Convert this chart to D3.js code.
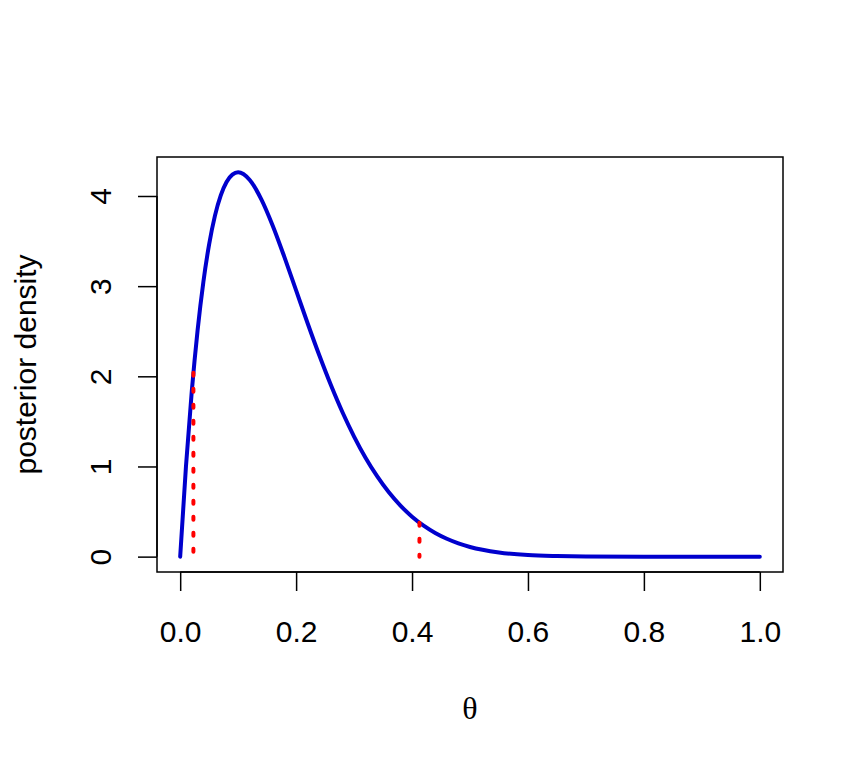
<!DOCTYPE html>
<html>
<head>
<meta charset="utf-8">
<script src="https://cdn.jsdelivr.net/npm/d3@7"></script>
<style>
  html, body { margin: 0; padding: 0; background: #fff; }
  svg { display: block; }
</style>
</head>
<body>
<script>
// ---- data ----
const theta = [0, 0.01, 0.02, 0.03, 0.04, 0.05, 0.06, 0.07, 0.08, 0.09, 0.10,
  0.12, 0.14, 0.16, 0.18, 0.20, 0.22, 0.24, 0.26, 0.28, 0.30, 0.32, 0.34, 0.36,
  0.38, 0.40, 0.42, 0.44, 0.46, 0.48, 0.50, 0.55, 0.60, 0.65, 0.70, 0.80, 0.90, 1.00];
const density = [0, 1.005, 1.834, 2.509, 3.047, 3.466, 3.782, 4.007, 4.155, 4.237, 4.262,
  4.177, 3.963, 3.665, 3.319, 2.953, 2.586, 2.233, 1.903, 1.601, 1.332, 1.094, 0.889, 0.713,
  0.566, 0.443, 0.343, 0.262, 0.198, 0.147, 0.107, 0.046, 0.017, 0.006, 0.0015, 0.00005, 0, 0];
const intervalTheta = [0.0228, 0.4128];
const intervalDensity = [2.04, 0.377];
const xTicks = [0, 0.2, 0.4, 0.6, 0.8, 1.0];
const yTicks = [0, 1, 2, 3, 4];
const xLabel = "θ";
const yLabel = "posterior density";

// ---- layout ----
const W = 864, H = 768;
const box = { left: 157, right: 783, top: 157, bottom: 572 };
const svg = d3.select("body").append("svg").attr("width", W).attr("height", H);

const xmin = d3.min(theta), xmax = d3.max(theta);
const ymin = d3.min(density), ymax = d3.max(density);
const xpad = 0.04 * (xmax - xmin), ypad = 0.04 * (ymax - ymin);
const x = d3.scaleLinear().domain([xmin - xpad, xmax + xpad]).range([box.left, box.right]);
const y = d3.scaleLinear().domain([ymin - ypad, ymax + ypad]).range([box.bottom, box.top]);

const font = "'Liberation Sans', Arial, Helvetica, sans-serif";
const fs = 30;

// x axis
const xAxis = d3.axisBottom(x).tickValues(xTicks).tickFormat(d3.format(".1f")).tickSize(19).tickPadding(0);
const gx = svg.append("g").attr("transform", `translate(0,${box.bottom})`).call(xAxis);
gx.select(".domain").attr("d", `M${x(xTicks[0])},0H${x(xTicks[xTicks.length-1])}`)
  .attr("stroke", "#000").attr("stroke-width", 1.5);
gx.selectAll(".tick line").attr("stroke", "#000").attr("stroke-width", 1.5);
gx.selectAll(".tick text").attr("font-family", font).attr("font-size", fs)
  .attr("fill", "#000").attr("y", 70).attr("dy", 0);

// y axis
const yAxis = d3.axisLeft(y).tickValues(yTicks).tickFormat(d3.format("d")).tickSize(19).tickPadding(0);
const gy = svg.append("g").attr("transform", `translate(${box.left},0)`).call(yAxis);
gy.select(".domain").attr("d", `M0,${y(yTicks[0])}V${y(yTicks[yTicks.length-1])}`)
  .attr("stroke", "#000").attr("stroke-width", 1.5);
gy.selectAll(".tick line").attr("stroke", "#000").attr("stroke-width", 1.5);
gy.selectAll(".tick text").attr("font-family", font).attr("font-size", fs).attr("fill", "#000")
  .attr("x", null).attr("dy", 0).attr("text-anchor", "middle")
  .attr("transform", "translate(-46,0) rotate(-90)");

// box
svg.append("rect").attr("x", box.left).attr("y", box.top)
  .attr("width", box.right - box.left).attr("height", box.bottom - box.top)
  .attr("fill", "none").attr("stroke", "#000").attr("stroke-width", 1.5);

// curve
const pts = theta.map((t, i) => [t, density[i]]);
svg.append("path").datum(pts)
  .attr("d", d3.line().x(d => x(d[0])).y(d => y(d[1])).curve(d3.curveMonotoneX))
  .attr("fill", "none").attr("stroke", "#0000CD").attr("stroke-width", 4)
  .attr("stroke-linejoin", "round").attr("stroke-linecap", "round");

// interval lines
svg.selectAll("line.ci").data(intervalTheta.map((t, i) => [t, intervalDensity[i]]))
  .enter().append("line").attr("class", "ci")
  .attr("x1", d => x(d[0])).attr("x2", d => x(d[0]))
  .attr("y1", d => y(d[1])).attr("y2", y(0))
  .attr("stroke", "#FF0000").attr("stroke-width", 4)
  .attr("stroke-dasharray", "3,13").attr("stroke-linecap", "round");

// axis titles
svg.append("text").attr("x", (box.left + box.right) / 2).attr("y", 719)
  .attr("text-anchor", "middle").attr("font-family", "'Liberation Serif', 'Times New Roman', serif")
  .attr("font-size", 32).attr("fill", "#000").text(xLabel);
svg.append("text").attr("transform", `translate(36,${(box.top + box.bottom) / 2}) rotate(-90)`)
  .attr("text-anchor", "middle").attr("font-family", font).attr("font-size", fs)
  .attr("fill", "#000").text(yLabel);
</script>
</body>
</html>
